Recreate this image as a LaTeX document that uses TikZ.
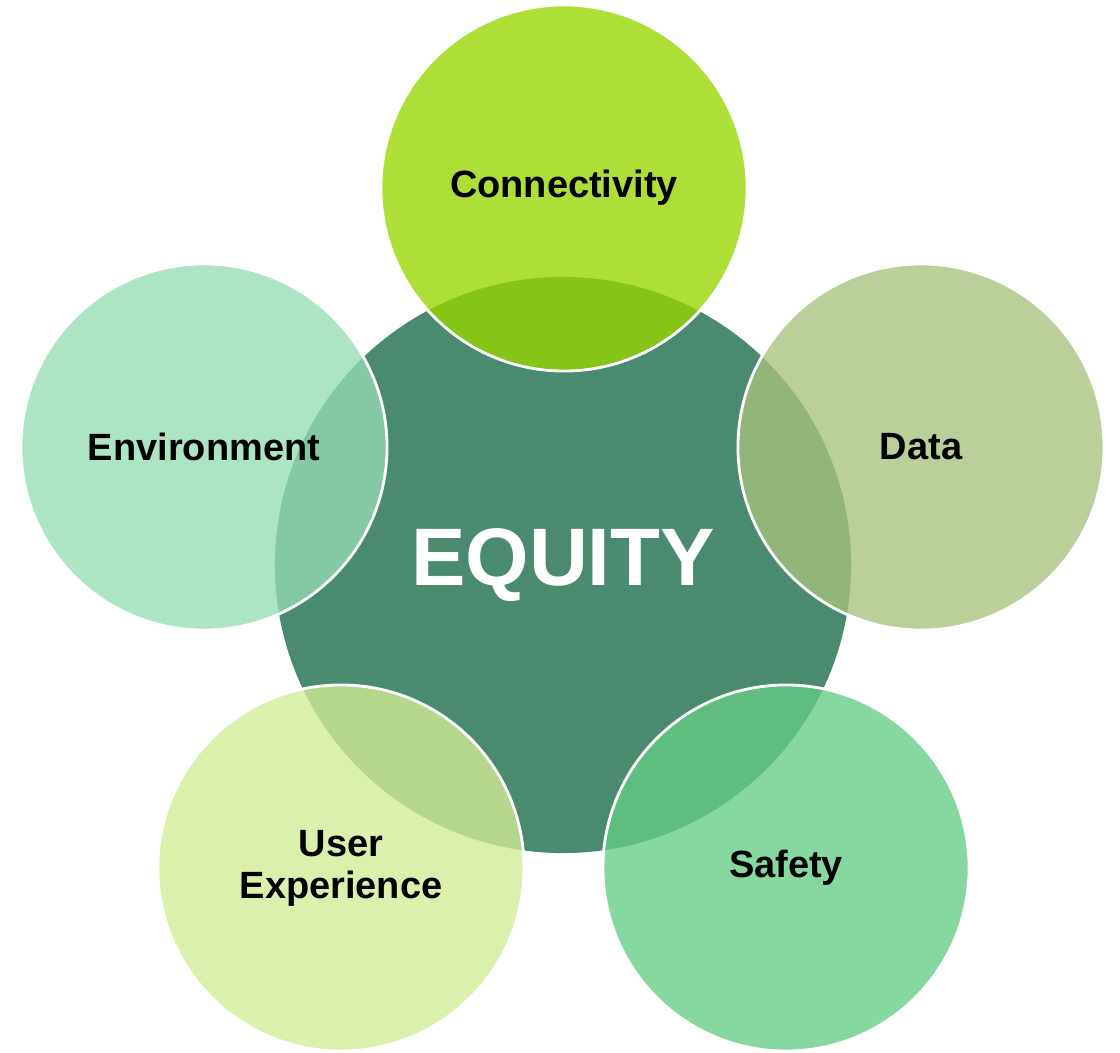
\documentclass[tikz,border=0pt]{standalone}
\usepackage{fontspec}
\setmainfont{Liberation Sans}

\definecolor{equitygreen}{RGB}{74,138,110}
\definecolor{conncol}{RGB}{151,214,0}
\definecolor{datacol}{RGB}{168,194,126}
\definecolor{safetycol}{RGB}{100,204,133}
\definecolor{usercol}{RGB}{210,236,151}
\definecolor{envcol}{RGB}{149,220,179}

\begin{document}
\begin{tikzpicture}[x=0.025cm,y=-0.025cm,
  hub/.style={circle,fill=equitygreen,minimum size=14.4cm,inner sep=0pt,
    text=white,font=\fontsize{58}{64}\selectfont\bfseries},
  petal/.style={circle,draw=white,line width=2pt,fill opacity=0.78,text opacity=1,
    minimum size=9.15cm,inner sep=0pt,align=center,
    font=\fontsize{27}{30}\selectfont\bfseries}]
\useasboundingbox (0,0) rectangle (1120,1053);
\node[hub] (equity) at (563,565) {EQUITY};
\node[petal,fill=conncol] (conn) at (564,188) {Connectivity};
\node[petal,fill=datacol] (data) at (921,447) {Data};
\node[petal,fill=safetycol] (safety) at (786,868) {Safety};
\node[petal,fill=usercol] (user) at (341,868) {User\\Experience};
\node[petal,fill=envcol] (env) at (204,447) {Environment};
\end{tikzpicture}
\end{document}
